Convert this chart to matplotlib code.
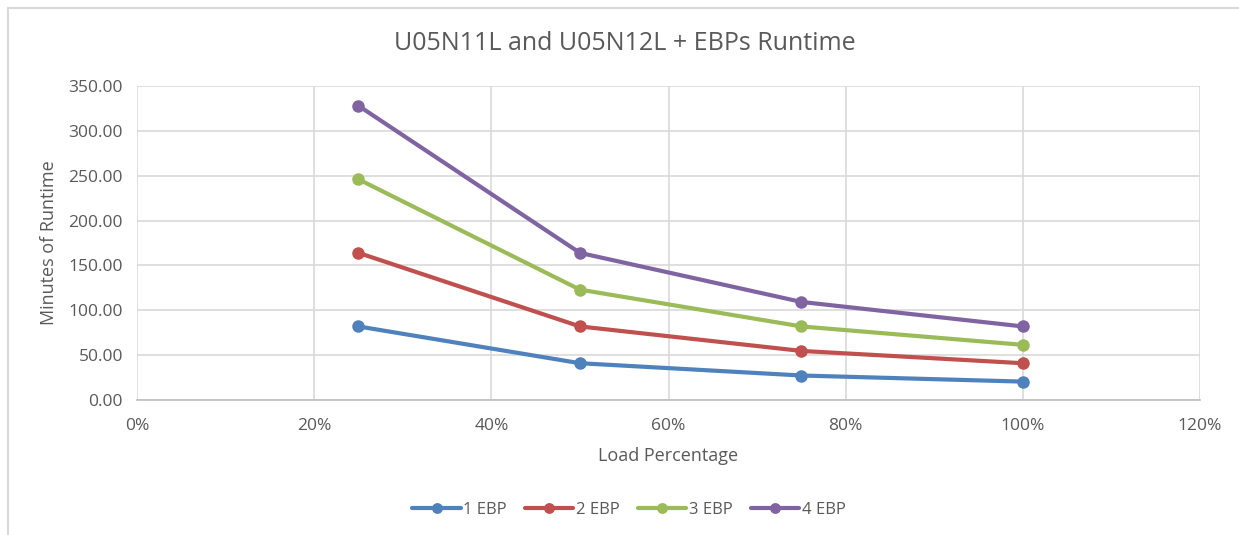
import matplotlib
matplotlib.use("Agg")
import matplotlib.pyplot as plt
from matplotlib.lines import Line2D
from matplotlib.ticker import FuncFormatter, MultipleLocator

plt.rcParams['font.family'] = ['Open Sans', 'DejaVu Sans']

load = [0.25, 0.50, 0.75, 1.00]
series_names = ["1 EBP", "2 EBP", "3 EBP", "4 EBP"]
ebp1 = [82.0, 41.0, 27.3, 20.5]
ebp2 = [164.0, 82.0, 54.7, 41.0]
ebp3 = [246.0, 123.0, 82.0, 61.5]
ebp4 = [328.0, 164.0, 109.3, 82.0]
colors = ["#4F81BD", "#C0504D", "#9BBB59", "#8064A2"]

W, H = 1239, 535
fig = plt.figure(figsize=(W / 100, H / 100), dpi=100)
ax = fig.add_axes([137 / W, 1 - 400 / H, (1200 - 137) / W, (400 - 86) / H])

for vals, name, c in zip([ebp1, ebp2, ebp3, ebp4], series_names, colors):
    ax.plot(load, vals, color=c, lw=3, marker='o', ms=8, label=name,
            solid_capstyle='round', zorder=3)

ax.set_xlim(0, 1.2)
ax.set_ylim(0, 350)
ax.xaxis.set_major_locator(MultipleLocator(0.2))
ax.yaxis.set_major_locator(MultipleLocator(50))
ax.xaxis.set_major_formatter(FuncFormatter(lambda v, p: f"{v*100:.0f}%"))
ax.yaxis.set_major_formatter(FuncFormatter(lambda v, p: f"{v:.2f}"))
ax.grid(True, color="#D9D9D9", lw=1.2, zorder=0)
for s in ["top", "right"]:
    ax.spines[s].set_visible(False)
ax.spines["left"].set_visible(False)
ax.spines["bottom"].set_color("#BFBFBF")
ax.spines["bottom"].set_linewidth(1.2)
ax.tick_params(axis='both', length=0, labelsize=12.5, labelcolor="#595959")
ax.tick_params(axis='x', pad=13)
ax.tick_params(axis='y', pad=10)

ax.set_xlabel("Load Percentage", fontsize=13, color="#595959", labelpad=9)
ax.set_ylabel("Minutes of Runtime", fontsize=13, color="#595959", labelpad=8)
fig.text(625 / W, 1 - 44 / H, "U05N11L and U05N12L + EBPs Runtime",
         ha='center', va='center', fontsize=18, color="#595959")

fig.legend(*ax.get_legend_handles_labels(), loc='center',
           bbox_to_anchor=(629 / W, 1 - 510 / H),
           ncol=4, frameon=False, fontsize=12, labelcolor="#595959",
           handlelength=2.9, handletextpad=0.15, columnspacing=1.1, markerscale=0.85)

# chart frame border
fig.add_artist(Line2D([8 / W, 1], [1 - 8 / H, 1 - 8 / H], transform=fig.transFigure,
                      color="#D9D9D9", lw=1.5))
fig.add_artist(Line2D([8 / W, 8 / W], [0, 1 - 8 / H], transform=fig.transFigure,
                      color="#D9D9D9", lw=1.5))

fig.savefig("out.png", dpi=100, facecolor="white")
